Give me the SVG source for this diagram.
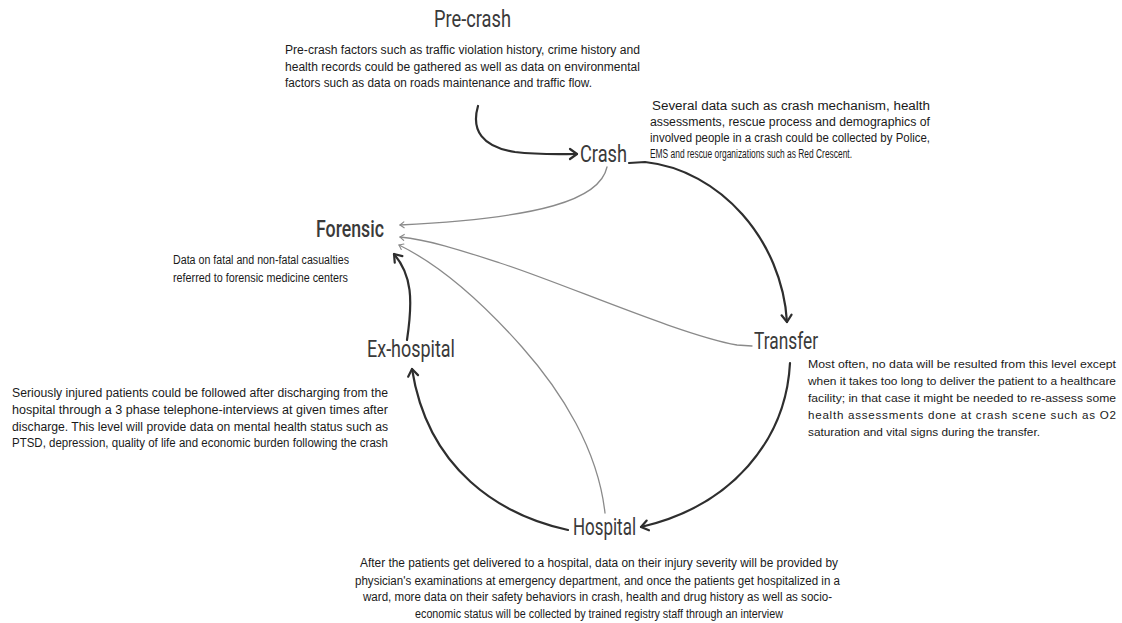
<svg xmlns="http://www.w3.org/2000/svg" width="1122" height="623" viewBox="0 0 1122 623">
<style>
.title{font-family:Roboto,"Liberation Sans",sans-serif;font-size:23px;fill:#3a3a3a}
.body{font-family:"Liberation Sans",Arial,sans-serif;font-size:12.5px;fill:#1a1a1a}
.sm{font-size:11.6px}
.thick{fill:none;stroke:#2e2e2e;stroke-width:2.2;stroke-linecap:round}
.thin{fill:none;stroke:#8a8a8a;stroke-width:1.3;stroke-linecap:round}
</style>
<defs>
<marker id="ah" markerUnits="userSpaceOnUse" markerWidth="14" markerHeight="14" refX="9" refY="6" orient="auto" viewBox="0 0 14 12">
<path d="M2,1 L9,6 L2,11" fill="none" stroke="#2e2e2e" stroke-width="2.2" stroke-linecap="round" stroke-linejoin="round"/>
</marker>
<marker id="as" markerUnits="userSpaceOnUse" markerWidth="8" markerHeight="8" refX="5" refY="4" orient="auto" viewBox="0 0 8 8">
<path d="M1,1 L5,4 L1,7" fill="none" stroke="#8a8a8a" stroke-width="1.1" stroke-linecap="round" stroke-linejoin="round"/>
</marker>
</defs>
<rect width="1122" height="623" fill="#ffffff"/>

<g id="connectors">
<path class="thick" d="M478,106 C471,130 482,147 515,152 C540,155 560,154 577,154" marker-end="url(#ah)"/>
<path class="thick" d="M629,163 L645,162 C720,170 782,240 787,322" marker-end="url(#ah)"/>
<path class="thin" d="M607,167 C600,200 540,218 400,225" marker-end="url(#as)"/>
<path class="thin" d="M752,346 L737,345 C680,335 560,282 500,263 C460,250 430,240 400,237" marker-end="url(#as)"/>
<path class="thin" d="M605,513 C598,450 562,392 522,347 C482,302 440,265 399,245" marker-end="url(#as)"/>
<path class="thick" d="M790,363 C786,440 732,506 641,527" marker-end="url(#ah)"/>
<path class="thick" d="M568,530 C500,515 428,470 412,369" marker-end="url(#ah)"/>
<path class="thick" d="M407,340 C413,300 412,275 394,254" marker-end="url(#ah)"/>
</g>

<g id="precrash">
<text class="title" x="434" y="27" textLength="77" lengthAdjust="spacingAndGlyphs">Pre-crash</text>
<text class="body" x="285" y="54" textLength="355" lengthAdjust="spacingAndGlyphs">Pre-crash factors such as traffic violation history, crime history and</text>
<text class="body" x="285" y="71" textLength="355" lengthAdjust="spacingAndGlyphs">health records could be gathered as well as data on environmental</text>
<text class="body" x="285" y="87" textLength="307" lengthAdjust="spacingAndGlyphs">factors such as data on roads maintenance and traffic flow.</text>
</g>

<g id="crash">
<text class="title" x="580" y="162" textLength="47" lengthAdjust="spacingAndGlyphs">Crash</text>
<text class="body" x="652" y="110" textLength="278" lengthAdjust="spacingAndGlyphs">Several data such as crash mechanism, health</text>
<text class="body" x="650" y="126" textLength="280" lengthAdjust="spacingAndGlyphs">assessments, rescue process and demographics of</text>
<text class="body" x="650" y="142" textLength="280" lengthAdjust="spacingAndGlyphs">involved people in a crash could be collected by Police,</text>
<text class="body" x="650" y="158" textLength="202" lengthAdjust="spacingAndGlyphs">EMS and rescue organizations such as Red Crescent.</text>
</g>

<g id="forensic">
<text class="title" x="316" y="237" textLength="68" lengthAdjust="spacingAndGlyphs" style="font-weight:500">Forensic</text>
<text class="body" x="173" y="264" textLength="176" lengthAdjust="spacingAndGlyphs">Data on fatal and non-fatal casualties</text>
<text class="body" x="173" y="282" textLength="175" lengthAdjust="spacingAndGlyphs">referred to forensic medicine centers</text>
</g>

<g id="transfer">
<text class="title" x="754" y="349" textLength="64" lengthAdjust="spacingAndGlyphs">Transfer</text>
<text class="body sm" x="808" y="368" textLength="308" lengthAdjust="spacingAndGlyphs">Most often, no data will be resulted from this level except</text>
<text class="body sm" x="808" y="385" textLength="308" lengthAdjust="spacingAndGlyphs">when it takes too long to deliver the patient to a healthcare</text>
<text class="body sm" x="808" y="402" textLength="308" lengthAdjust="spacingAndGlyphs">facility; in that case it might be needed to re-assess some</text>
<text class="body sm" x="808" y="419" textLength="308">health assessments done at crash scene such as O2</text>
<text class="body sm" x="808" y="436" textLength="232" lengthAdjust="spacingAndGlyphs">saturation and vital signs during the transfer.</text>
</g>

<g id="exhospital">
<text class="title" x="367" y="357" textLength="88" lengthAdjust="spacingAndGlyphs">Ex-hospital</text>
<text class="body" x="12" y="397" textLength="376" lengthAdjust="spacingAndGlyphs">Seriously injured patients could be followed after discharging from the</text>
<text class="body" x="12" y="414" textLength="376" lengthAdjust="spacingAndGlyphs">hospital through a 3 phase telephone-interviews at given times after</text>
<text class="body" x="12" y="431" textLength="376" lengthAdjust="spacingAndGlyphs">discharge. This level will provide data on mental health status such as</text>
<text class="body" x="12" y="447" textLength="376" lengthAdjust="spacingAndGlyphs">PTSD, depression, quality of life and economic burden following the crash</text>
</g>

<g id="hospital">
<text class="title" x="573" y="535" textLength="63" lengthAdjust="spacingAndGlyphs">Hospital</text>
<text class="body" x="360" y="567" textLength="478" lengthAdjust="spacingAndGlyphs">After the patients get delivered to a hospital, data on their injury severity will be provided by</text>
<text class="body" x="355" y="585" textLength="485" lengthAdjust="spacingAndGlyphs">physician's examinations at emergency department, and once the patients get hospitalized in a</text>
<text class="body" x="363" y="601" textLength="469" lengthAdjust="spacingAndGlyphs">ward, more data on their safety behaviors in crash, health and drug history as well as socio-</text>
<text class="body" x="415" y="618" textLength="368" lengthAdjust="spacingAndGlyphs">economic status will be collected by trained registry staff through an interview</text>
</g>
</svg>
